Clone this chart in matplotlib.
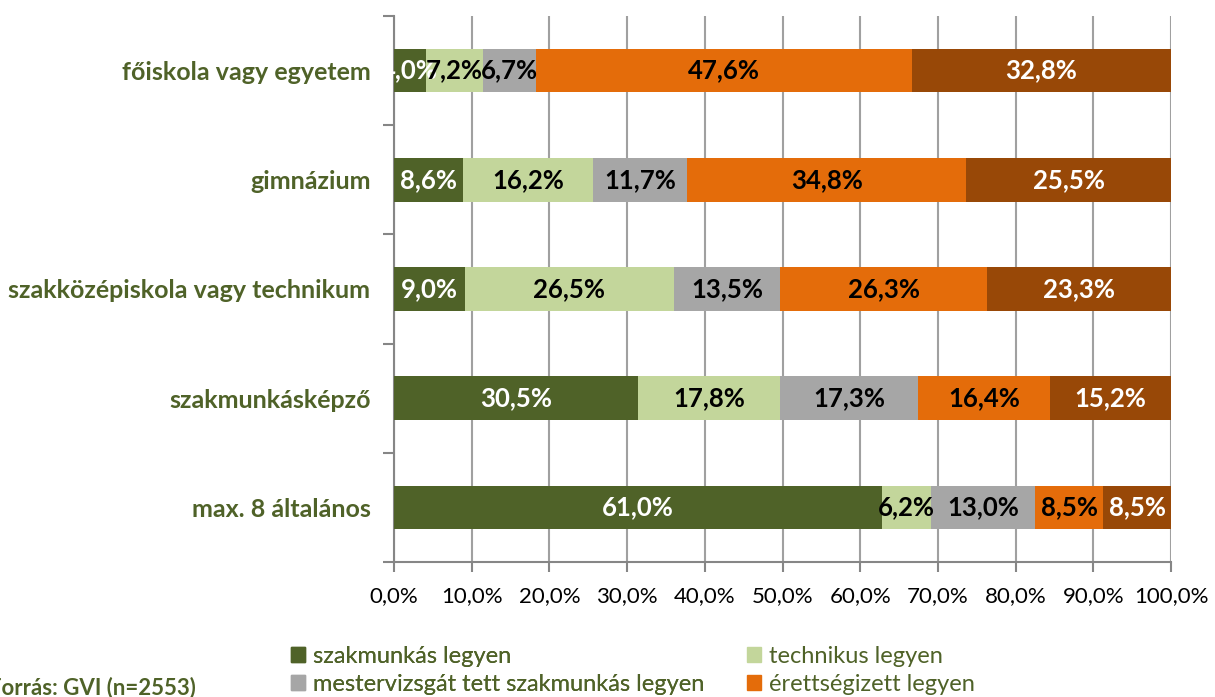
import numpy as np
import matplotlib
matplotlib.use("Agg")
import matplotlib.pyplot as plt
from matplotlib.patches import Patch

plt.rcParams["font.family"] = ["Lato", "DejaVu Sans"]

# categories, bottom to top
categories = [
    "max. 8 általános",
    "szakmunkásképző",
    "szakközépiskola vagy technikum",
    "gimnázium",
    "főiskola vagy egyetem",
]

series_names = [
    "szakmunkás legyen",
    "technikus legyen",
    "mestervizsgát tett szakmunkás legyen",
    "érettségizett legyen",
    "diplomás legyen",
]

szakmunkas = [61.0, 30.5, 9.0, 8.6, 4.0]
technikus = [6.2, 17.8, 26.5, 16.2, 7.2]
mestervizsga = [13.0, 17.3, 13.5, 11.7, 6.7]
erettsegi = [8.5, 16.4, 26.3, 34.8, 47.6]
diplomas = [8.5, 15.2, 23.3, 25.5, 32.8]

colors = ["#4F6228", "#C3D69B", "#A6A6A6", "#E46C0A", "#984807"]
label_colors = ["white", "black", "black", "black", "white"]
green = "#4F6228"
gray = "#868686"

values = np.array([szakmunkas, technikus, mestervizsga, erettsegi, diplomas])
# 100% stacked: each bar is scaled to its own total
shares = values / values.sum(axis=0) * 100

fig = plt.figure(figsize=(12.15, 6.97), dpi=100)
ax = fig.add_axes([0.3243, 0.1937, 0.6395, 0.7834])

y = np.arange(len(categories))
left = np.zeros(len(categories))
for i in range(len(series_names)):
    ax.barh(y, shares[i], left=left, height=0.4, color=colors[i],
            edgecolor="none", zorder=3, label=series_names[i])
    for j in range(len(categories)):
        ax.text(left[j] + shares[i][j] / 2, y[j],
                f"{values[i][j]:.1f}%".replace(".", ","),
                ha="center", va="center", fontsize=18.5, fontweight="bold",
                color=label_colors[i], zorder=4)
    left = left + shares[i]

ax.set_xlim(0, 100)
ax.set_ylim(-0.5, len(categories) - 0.5)

xt = np.arange(0, 101, 10)
ax.set_xticks(xt)
ax.set_xticklabels([f"{v:.1f}%".replace(".", ",") for v in xt], fontsize=16)
ax.tick_params(axis="x", length=7, color=gray, width=1.5, pad=10)
ax.grid(axis="x", color="#A0A0A0", linewidth=1.5, zorder=0)

ax.set_yticks(y)
ax.set_yticklabels(categories, fontsize=18, fontweight="bold", color=green)
ax.tick_params(axis="y", length=0, pad=17)
ax.set_yticks(np.arange(-0.5, len(categories)), minor=True)
ax.tick_params(axis="y", which="minor", length=8, color=gray, width=1.5)

for s in ["top", "right"]:
    ax.spines[s].set_visible(False)
for s in ["left", "bottom"]:
    ax.spines[s].set_color(gray)
    ax.spines[s].set_linewidth(1.5)

# legend, two columns laid out row by row;
# the last row (diplomás legyen) falls outside the picture in the original
leg_kw = dict(loc="upper left", frameon=False, fontsize=17,
              handlelength=0.6, handleheight=0.6, handletextpad=0.35,
              labelspacing=0.28, borderaxespad=0, borderpad=0)
col1 = [0, 2]
col2 = [1, 3]
leg1 = fig.legend([Patch(color=colors[i]) for i in col1],
                  [series_names[i] for i in col1],
                  bbox_to_anchor=(0.2395, 0.073), **leg_kw)
fig.add_artist(leg1)
leg2 = fig.legend([Patch(color=colors[i]) for i in col2],
                  [series_names[i] for i in col2],
                  bbox_to_anchor=(0.6148, 0.073), **leg_kw)
for leg in (leg1, leg2):
    for t in leg.get_texts():
        t.set_color(green)

fig.text(-0.009, 0.013, "Forrás: GVI (n=2553)", fontsize=16, fontweight="bold",
         color=green, ha="left", va="center")

fig.savefig("out.png", dpi=100)
